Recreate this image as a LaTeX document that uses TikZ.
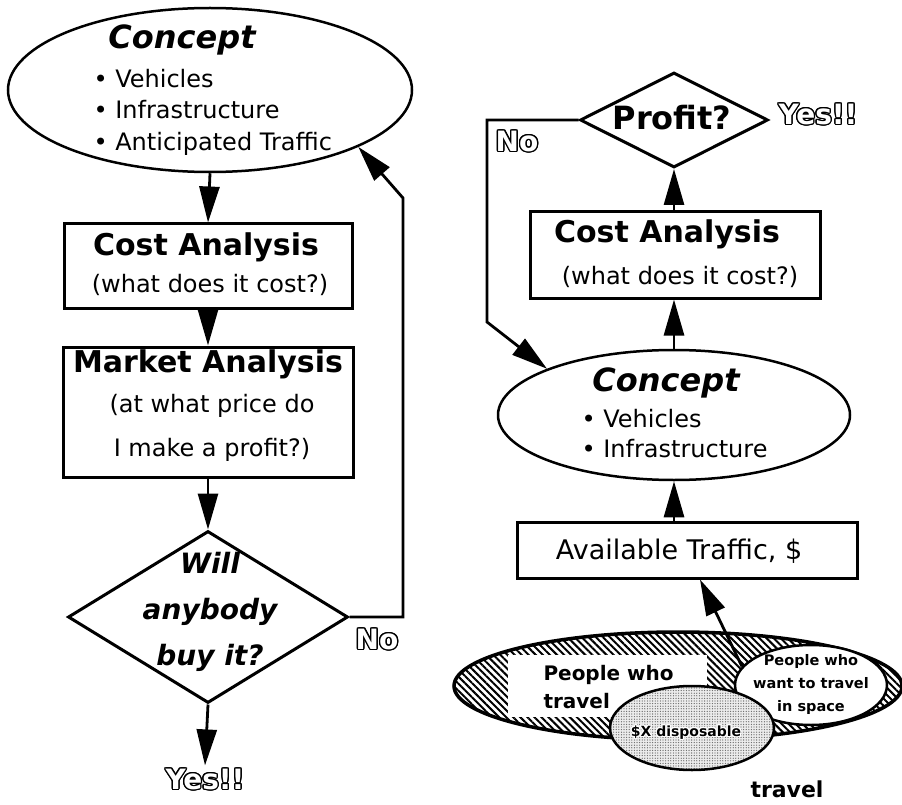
\documentclass[tikz,border=0pt]{standalone}
\usepackage{fontspec}
\setmainfont{DejaVu Sans}
\usepackage{contour}
\usetikzlibrary{shapes.geometric,arrows.meta,patterns.meta}
\contourlength{1.3pt}
\newcommand{\hollow}[1]{\contour{black}{\textcolor{white}{#1}}}

\begin{document}
\begin{tikzpicture}[x=1pt,y=-1pt]
  \tikzset{box/.style={draw,line width=3pt,inner sep=0pt},
    blob/.style={draw,ellipse,line width=2.5pt,inner sep=0pt},
    choice/.style={draw,diamond,line width=3pt,inner sep=0pt},
    arr/.style={line width=2.8pt,-{Triangle[length=36pt,width=20pt]}},
    head/.style={font=\fontsize{30}{36}\bfseries},
    slant/.style={font=\fontsize{#1}{46}\bfseries\itshape,align=center},
    body/.style={font=\fontsize{24}{#1}\selectfont,align=left},
    sub/.style={font=\fontsize{24}{44}\selectfont,align=center},
    shout/.style={font=\fontsize{28}{30}\bfseries}}
  \useasboundingbox (0,0) rectangle (902,805);

  % left loop
  \node [blob,minimum width=404,minimum height=164] (concL) at (210,90) {};
  \node [slant=32] at (182,40) {Concept};
  \node [body=31.5,anchor=west] at (90,112) {\textbullet\ Vehicles\\\textbullet\ Infrastructure\\\textbullet\ Anticipated Traffic};
  \node [box,minimum width=288,minimum height=84] (costL) at (208,266) {};
  \node [head] at (206,247) {Cost Analysis};
  \node [sub] at (210,285) {(what does it cost?)};
  \node [box,minimum width=290,minimum height=130] (mktL) at (208,412) {};
  \node [head] at (208,364) {Market Analysis};
  \node [sub] at (212,428) {(at what price do\\I make a profit?)};
  \node [choice,minimum width=280,minimum height=172] (will) at (208,617) {};
  \node [slant=28] at (210,612) {Will\\anybody\\buy it?};
  \node [shout] (yesL) at (205,780) {\hollow{Yes!!}};
  \node [shout] at (377,640) {\hollow{No}};
  \coordinate (backL) at (403,198);

  \draw [arr] (concL.south) -- (costL.north);
  \draw [arr] (costL.south) -- (mktL.north);
  \draw [arr] (mktL.south) -- (will.north);
  \draw [arr] (will.south) -- (yesL.north);
  \draw [arr] (will.east) -| (backL) -- (concL.-21);

  % right loop
  \node [choice,minimum width=188,minimum height=95] (profit) at (674,120) {};
  \node [head,font=\fontsize{32}{36}\bfseries] at (672,118) {Profit?};
  \node [shout] at (818,115) {\hollow{Yes!!}};
  \node [shout] at (517,142) {\hollow{No}};
  \node [box,minimum width=290,minimum height=86] (costR) at (675,255) {};
  \node [head] at (667,234) {Cost Analysis};
  \node [sub] at (680,277) {(what does it cost?)};
  \node [blob,minimum width=352,minimum height=130] (concR) at (674,415) {};
  \node [slant=32] at (666,383) {Concept};
  \node [body=30,anchor=west] at (578,434) {\textbullet\ Vehicles\\\textbullet\ Infrastructure};
  \node [box,minimum width=340,minimum height=56] (avail) at (687,550) {};
  \node [font=\fontsize{27}{30}\selectfont] at (679,551) {Available Traffic, \$};
  \coordinate (backR) at (487,322);

  \draw [arr] (profit.south |- costR.north) -- (profit.south);
  \draw [arr] (concR.north) -- (concR.north |- costR.south);
  \draw [arr] (concR.south |- avail.north) -- (concR.south);
  \draw [arr] (profit.west) -| (backR) -- (concR.160);

  % who travels
  \node [blob,line width=3.5pt,minimum width=448,minimum height=108,
    pattern={Lines[angle=-45,distance=5pt,line width=2pt]}] (people) at (678,686) {};
  \node [fill=white,minimum width=199,minimum height=62,inner sep=0pt] (trav) at (607,686) {};
  \node [font=\fontsize{20}{28}\bfseries,align=left,anchor=west] at (540,687) {People who\\travel};
  \node [blob,fill=white,minimum width=152,minimum height=80] (space) at (811,685) {};
  \node [font=\fontsize{14.5}{23}\bfseries,align=center] at (811,684) {People who\\want to travel\\in space};
  \node [blob,minimum width=164,minimum height=84,preaction={fill=gray!15},
    pattern={Dots[distance=2.6pt,radius=0.65pt]},pattern color=gray!80!black] (cash) at (692,728) {};
  \node [font=\fontsize{14}{16}\bfseries] at (686,733) {\contourlength{1pt}\contour{white}{\$X disposable}};
  \node [font=\fontsize{22}{24}\bfseries] at (787,789) {travel};

  \draw [arr] (space.165) -- ([xshift=13pt]avail.south);
\end{tikzpicture}
\end{document}
